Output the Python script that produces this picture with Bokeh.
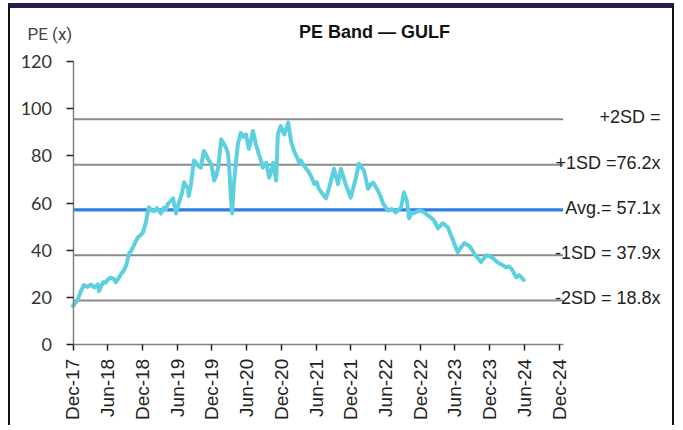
import math
from bokeh.plotting import figure
from bokeh.models import Range1d, FixedTicker, Label, ColumnDataSource
from bokeh.core.properties import value
from bokeh.embed import file_html
from bokeh.resources import INLINE

# ---- data (months since Dec-2017, PE multiple) ----
months = [0.0, 0.35, 0.8, 1.4, 1.9, 2.5, 3.1, 3.7, 4.3, 4.5, 5.2, 5.6, 6.0, 6.5, 7.1, 7.4, 7.9, 8.3, 8.8, 9.2,
          9.7, 10.0, 10.4, 10.8, 11.2, 11.6, 12.1, 12.6, 13.1, 13.5, 14.0, 14.5, 15.2, 15.7, 16.1, 16.4, 16.9, 17.3,
          17.8, 18.3, 18.8, 19.2, 19.6, 19.9, 20.0, 20.4, 20.9, 21.3, 21.6, 22.1, 22.6, 23.0, 23.3, 23.9, 24.4, 24.8,
          25.1, 25.6, 26.1, 26.5, 26.8, 27.0, 27.3, 27.5, 27.8, 28.2, 28.5, 29.0, 29.5, 29.9, 30.4, 30.8, 31.1, 31.6,
          32.1, 32.5, 32.8, 33.4, 33.9, 34.3, 34.6, 35.1, 35.4, 35.9, 36.5, 37.2, 37.7, 38.2, 38.6, 39.1, 39.4, 40.0,
          40.6, 41.2, 41.7, 42.1, 42.5, 43.1, 43.7, 44.1, 44.6, 45.1, 45.8, 46.3, 46.8, 47.2, 48.0, 48.4, 48.9, 49.4,
          50.3, 51.0, 51.5, 51.9, 52.7, 53.2, 53.6, 54.4, 55.1, 55.8, 56.2, 56.7, 57.2, 57.7, 58.1, 58.5, 58.9, 59.5,
          60.1, 60.7, 61.4, 62.0, 62.4, 63.1, 63.5, 63.9, 64.4, 64.8, 65.3, 65.7, 66.1, 66.5, 67.0, 67.6, 68.0, 68.4,
          68.9, 69.3, 69.9, 70.5, 71.0, 71.4, 72.0, 72.6, 73.1, 73.6, 74.2, 74.8, 75.3, 75.7, 76.2, 76.6, 77.1, 77.5,
          77.9]
pe = [16.5, 17.5, 19, 23, 25.3, 24.5, 25.5, 24.3, 25.6, 22.7, 26.5, 26.2, 27.5, 28.4, 27.8, 26.5, 28.2, 30, 31.5, 33.7,
      38.7, 39.5, 41.4, 43.5, 45.5, 46.2, 47.6, 51.8, 58.2, 57, 56.5, 57.8, 55.6, 58, 57.5, 59.7, 60.8, 62,
      55.6, 60, 64, 68.8, 67, 66, 63, 68, 78, 77, 75.8, 75, 82, 80.5, 78.7, 76.6, 69.5, 72,
      75, 87, 85, 83, 80.8, 75, 62, 55.6, 68, 78, 85, 89.7, 88, 89, 82.9, 87, 90.5, 85,
      80.8, 78, 75, 77, 70.7, 74, 77, 69.5, 89, 92.6, 89, 94, 86, 82, 80, 77, 78, 75.5,
      73.7, 71, 68, 68.8, 66, 64, 62, 65, 69.5, 74.5, 68, 74.5, 70.5, 67.4, 62.3, 66, 70.7, 76.6,
      73.7, 66, 68, 68.6, 65.3, 62.5, 59.7, 56.8, 57.5, 56, 57, 58.2, 64.5, 61, 53.5, 56, 55.6, 56.5,
      56.8, 56, 54.7, 53.5, 52.6, 49.3, 50.5, 51.4, 50.5, 49.7, 46.5, 44.2, 41.5, 39.2, 41, 43, 42.5, 42,
      40.5, 38.7, 36.8, 35, 36.5, 37.9, 37.5, 36.6, 35.5, 34.5, 33.8, 32.8, 33.2, 32.4, 30.5, 28.6, 29.5, 28.5,
      27.4]

band_values = [95.4, 76.2, 57.1, 37.9, 18.8]
band_labels = ["+2SD =", "+1SD =76.2x", "Avg.= 57.1x", "-1SD = 37.9x", "-2SD = 18.8x"]

tick_months = [0, 6, 12, 18, 24, 30, 36, 42, 48, 54, 60, 66, 72, 78, 84]
tick_labels = ["Dec-17", "Jun-18", "Dec-18", "Jun-19", "Dec-19", "Jun-20", "Dec-20", "Jun-21",
               "Dec-21", "Jun-22", "Dec-22", "Jun-23", "Dec-23", "Jun-24", "Dec-24"]
y_ticks = [0, 20, 40, 60, 80, 100, 120]

# ---- layout constants (page pixels) ----
W, H = 666, 422
CANVAS_X, CANVAS_Y = 10, 8
PX_PER_MONTH = 5.786
AXIS_PX = 72.5            # page x of Dec-17 / y axis
ZERO_PY = 344.3           # page y of PE = 0
PX_PER_UNIT = 2.363
X_START = (CANVAS_X - AXIS_PX) / PX_PER_MONTH
X_END = (CANVAS_X + W - AXIS_PX) / PX_PER_MONTH
Y_START = (ZERO_PY - (CANVAS_Y + H)) / PX_PER_UNIT
Y_END = (ZERO_PY - CANVAS_Y) / PX_PER_UNIT
AXIS_X_END = 84.7
LINE_END = 84.7


def mx(page_x):
    return (page_x - AXIS_PX) / PX_PER_MONTH


def vy(page_y):
    return (ZERO_PY - page_y) / PX_PER_UNIT


LABEL_X = mx(660)

p = figure(width=W, height=H, x_range=Range1d(X_START, X_END), y_range=Range1d(Y_START, Y_END),
           output_backend="svg", toolbar_location=None,
           min_border_left=0, min_border_right=0, min_border_top=0, min_border_bottom=0)
p.styles = {"position": "absolute", "left": "8px", "top": "3px",
            "border-left": "2px solid #111111", "border-right": "2px solid #111111",
            "border-top": "5px solid #2d1a4e"}
p.outline_line_color = None
p.grid.visible = False
p.background_fill_color = "white"
p.border_fill_color = "white"

# bands
gray_idx = [0, 1, 3, 4]
src_g = ColumnDataSource(dict(x0=[0] * 4, x1=[LINE_END] * 4, y=[band_values[i] for i in gray_idx]))
p.segment(x0="x0", y0="y", x1="x1", y1="y", source=src_g, line_color="#8a8a8a", line_width=2)
src_a = ColumnDataSource(dict(x0=[0], x1=[LINE_END], y=[band_values[2]]))
p.segment(x0="x0", y0="y", x1="x1", y1="y", source=src_a, line_color="#2f7fe0", line_width=3.2)

# PE line
p.line(months, pe, line_color="#5dd0df", line_width=4, line_join="round", line_cap="round")

# band labels
src_l = ColumnDataSource(dict(x=[LABEL_X] * 5, y=band_values, t=band_labels))
p.text(x="x", y="y", text="t", source=src_l, text_align="right", text_baseline="middle",
       y_offset=-2, text_font=value("Liberation Sans"), text_font_size="18px", text_color="#222222")

# axes
xa = p.xaxis[0]
xa.fixed_location = 0
xa.ticker = FixedTicker(ticks=tick_months)
xa.major_label_overrides = {m: l for m, l in zip(tick_months, tick_labels)}
xa.major_label_orientation = math.pi / 2
xa.bounds = (0, AXIS_X_END)
xa.axis_line_color = "#808080"
xa.axis_line_width = 1.5
xa.major_tick_line_color = "#222222"
xa.major_tick_line_width = 1.5
xa.major_tick_out = 6
xa.major_tick_in = 0
xa.minor_tick_line_color = None
xa.major_label_standoff = 8
xa.major_label_text_font = "Liberation Sans"
xa.major_label_text_font_size = "19px"
xa.major_label_text_color = "#222222"

ya = p.yaxis[0]
ya.fixed_location = 0
ya.ticker = FixedTicker(ticks=y_ticks)
ya.bounds = (0, 120)
ya.axis_line_color = "#808080"
ya.axis_line_width = 1.5
ya.major_tick_line_color = "#222222"
ya.major_tick_line_width = 1.5
ya.major_tick_out = 7
ya.major_tick_in = 0
ya.minor_tick_line_color = None
ya.major_label_standoff = 14
ya.major_label_text_font = "Lato"
ya.major_label_text_font_size = "18px"
ya.major_label_text_color = "#333333"

# titles
p.add_layout(Label(x=mx(374), y=vy(31), text="PE Band \u2014 GULF", text_align="center", text_baseline="middle",
                   text_font="Liberation Sans", text_font_style="bold", text_font_size="18px",
                   text_color="#111111"))
p.add_layout(Label(x=mx(27), y=vy(33), text="PE (x)", text_align="left", text_baseline="middle",
                   text_font="Roboto", text_font_size="17px", text_color="#444444"))

open("out.html", "w").write(file_html(p, INLINE))
